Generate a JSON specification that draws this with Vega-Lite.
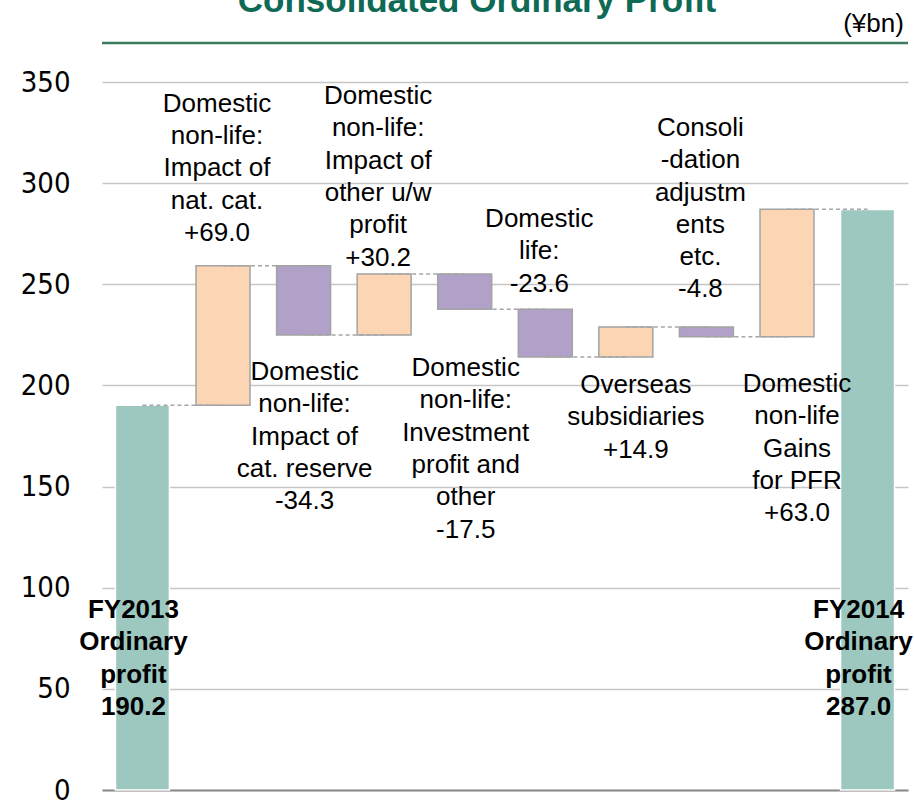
{
  "$schema": "https://vega.github.io/schema/vega-lite/v6.json",
  "autosize": {"type": "none"},
  "padding": {"left": 102, "top": 82, "right": 6, "bottom": 12},
  "width": 806,
  "height": 708,
  "background": "white",
  "config": {"view": {"stroke": null}, "font": "Liberation Sans"},
  "title": {
    "text": "Consolidated Ordinary Profit",
    "frame": "group",
    "anchor": "middle",
    "fontSize": 35,
    "fontWeight": "bold",
    "color": "#0E6A55",
    "font": "Liberation Sans",
    "baseline": "alphabetic",
    "offset": 0,
    "dy": 36,
    "dx": -28
  },
  "data": {
    "values": [
      {"cat": "FY2013", "next": "NatCat", "start": 0, "end": 190.2, "kind": "total", "ly": 95.4, "label": "FY2013\nOrdinary\nprofit\n190.2"},
      {"cat": "NatCat", "next": "CatReserve", "start": 190.2, "end": 259.2, "kind": "up", "ly": 345.6, "label": "Domestic\nnon-life:\nImpact of\nnat. cat.\n+69.0"},
      {"cat": "CatReserve", "next": "OtherUW", "start": 259.2, "end": 224.9, "kind": "down", "ly": 213.1, "label": "Domestic\nnon-life:\nImpact of\ncat. reserve\n-34.3"},
      {"cat": "OtherUW", "next": "Investment", "start": 224.9, "end": 255.1, "kind": "up", "ly": 349.5, "label": "Domestic\nnon-life:\nImpact of\nother u/w\nprofit\n+30.2"},
      {"cat": "Investment", "next": "Life", "start": 255.1, "end": 237.6, "kind": "down", "ly": 215.0, "label": "Domestic\nnon-life:\nInvestment\nprofit and\nother\n-17.5"},
      {"cat": "Life", "next": "Overseas", "start": 237.6, "end": 214.0, "kind": "down", "ly": 288.7, "label": "Domestic\nlife:\n-23.6"},
      {"cat": "Overseas", "next": "Consol", "start": 214.0, "end": 228.9, "kind": "up", "ly": 206.6, "label": "Overseas\nsubsidiaries\n+14.9"},
      {"cat": "Consol", "next": "PFR", "start": 228.9, "end": 224.1, "kind": "down", "ly": 333.7, "label": "Consoli\n-dation\nadjustm\nents\netc.\n-4.8"},
      {"cat": "PFR", "next": "FY2014", "start": 224.1, "end": 287.1, "kind": "up", "ly": 207.1, "label": "Domestic\nnon-life\nGains\nfor PFR\n+63.0"},
      {"cat": "FY2014", "next": null, "start": 0, "end": 287.0, "kind": "total", "ly": 95.4, "label": "FY2014\nOrdinary\nprofit\n287.0"}
    ]
  },
  "layer": [
    {
      "mark": {"type": "bar", "strokeWidth": 1.5},
      "encoding": {
        "x": {
          "field": "cat",
          "type": "nominal",
          "sort": null,
          "scale": {
            "domain": ["FY2013", "NatCat", "CatReserve", "OtherUW", "Investment", "Life", "Overseas", "Consol", "PFR", "FY2014"],
            "paddingInner": 0.33,
            "paddingOuter": 0.167
          },
          "axis": {"title": null, "labels": false, "ticks": false, "domain": true, "domainColor": "#8C8C8C", "domainWidth": 2}
        },
        "y": {
          "field": "start",
          "type": "quantitative",
          "scale": {"domain": [0, 350], "nice": false, "zero": false},
          "axis": {
            "title": null,
            "values": [0, 50, 100, 150, 200, 250, 300, 350],
            "grid": true,
            "gridColor": "#C6C6C6",
            "gridWidth": 1.5,
            "domain": false,
            "ticks": false,
            "labelPadding": 32,
            "labelFont": "DejaVu Sans Condensed",
            "labelFontSize": 29,
            "labelColor": "#000000"
          }
        },
        "y2": {"field": "end"},
        "color": {
          "field": "kind",
          "type": "nominal",
          "scale": {"domain": ["total", "up", "down"], "range": ["#9CC8C0", "#FCD5B4", "#B1A0C7"]},
          "legend": null
        },
        "stroke": {
          "field": "kind",
          "type": "nominal",
          "scale": {"domain": ["total", "up", "down"], "range": ["#FFFFFF", "#A3A3A3", "#A3A3A3"]},
          "legend": null
        }
      }
    },
    {
      "transform": [{"filter": "datum.next != null"}],
      "mark": {"type": "rule", "strokeDash": [4, 3], "color": "#A6A6A6", "strokeWidth": 1.5},
      "encoding": {
        "x": {"field": "cat", "type": "nominal"},
        "x2": {"field": "next"},
        "y": {"field": "end", "type": "quantitative"}
      }
    },
    {
      "transform": [{"filter": {"field": "cat", "oneOf": ["NatCat", "OtherUW", "Life", "Consol"]}}],
      "mark": {"type": "text", "fontSize": 26, "lineBreak": "\n", "lineHeight": 32.3, "baseline": "top", "align": "center", "dx": -6, "color": "#000000"},
      "encoding": {"x": {"field": "cat", "type": "nominal"}, "y": {"field": "ly", "type": "quantitative"}, "text": {"field": "label"}}
    },
    {
      "transform": [{"filter": {"field": "cat", "oneOf": ["CatReserve", "Investment"]}}],
      "mark": {"type": "text", "fontSize": 26, "lineBreak": "\n", "lineHeight": 32.3, "baseline": "top", "align": "center", "dx": 1, "color": "#000000"},
      "encoding": {"x": {"field": "cat", "type": "nominal"}, "y": {"field": "ly", "type": "quantitative"}, "text": {"field": "label"}}
    },
    {
      "transform": [{"filter": {"field": "cat", "oneOf": ["Overseas", "PFR"]}}],
      "mark": {"type": "text", "fontSize": 26, "lineBreak": "\n", "lineHeight": 32.3, "baseline": "top", "align": "center", "dx": 10, "color": "#000000"},
      "encoding": {"x": {"field": "cat", "type": "nominal"}, "y": {"field": "ly", "type": "quantitative"}, "text": {"field": "label"}}
    },
    {
      "transform": [{"filter": {"field": "kind", "equal": "total"}}],
      "mark": {"type": "text", "fontSize": 26, "fontWeight": "bold", "lineBreak": "\n", "lineHeight": 32.3, "baseline": "top", "align": "center", "dx": -9, "color": "#000000"},
      "encoding": {"x": {"field": "cat", "type": "nominal"}, "y": {"field": "ly", "type": "quantitative"}, "text": {"field": "label"}}
    },
    {
      "data": {"values": [{"t": "(¥bn)"}]},
      "mark": {"type": "text", "font": "Liberation Sans", "fontSize": 26, "baseline": "middle", "align": "center", "dx": 6, "color": "#000000"},
      "encoding": {"x": {"datum": "FY2014"}, "y": {"datum": 378.7}, "text": {"field": "t"}}
    },
    {
      "data": {"values": [{}]},
      "mark": {"type": "rule", "color": "#3C7D5E", "strokeWidth": 2.5},
      "encoding": {"y": {"datum": 369.3}}
    }
  ]
}
